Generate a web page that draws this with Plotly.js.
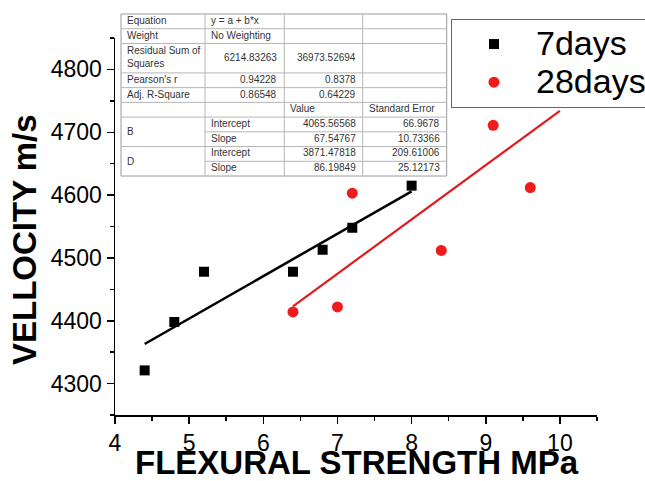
<!DOCTYPE html>
<html>
<head>
<meta charset="utf-8">
<script src="https://cdn.plot.ly/plotly-3.0.1.min.js"></script>
<style>html,body{margin:0;padding:0;background:#fff;}#chart{width:645px;height:481px;}</style>
</head>
<body>
<div id="chart"></div>
<script>
// ---- data ----
const days7X = [4.4, 4.8, 5.2, 6.4, 6.8, 7.2, 8.0];
const days7Y = [4321, 4398, 4478, 4478, 4513, 4548, 4615];
const days28X = [6.4, 7.0, 7.2, 8.4, 9.1, 9.6];
const days28Y = [4414, 4422, 4603, 4512, 4711, 4612];
const fit7X = [4.4, 8.0];
const fit7Y = [4363, 4606];
const fit28X = [6.4, 10.0];
const fit28Y = [4423, 4734];
const seriesNames = ["7days", "28days"];
const xTitle = "FLEXURAL STRENGTH MPa";
const yTitle = "VELLOCITY m/s";

// fit statistics table
const tableCol0 = ["Equation", "Weight", "Residual Sum of<br>Squares", "Pearson's r", "Adj. R-Square", "", "B", "", "D", ""];
const tableCol1 = ["y = a + b*x", "No Weighting", "6214.83263", "0.94228", "0.86548", "", "Intercept", "Slope", "Intercept", "Slope"];
const tableCol2 = ["", "", "36973.52694", "0.8378", "0.64229", "Value", "4065.56568", "67.54767", "3871.47818", "86.19849"];
const tableCol3 = ["", "", "", "", "", "Standard Error", "66.9678", "10.73366", "209.61006", "25.12173"];
const rowSpans = [1, 1, 2, 1, 1, 1, 1, 1, 1, 1];

// ---- layout geometry ----
const L = 115, R = 597, T = 38, B = 415;
const px2x = p => (p - L) / (R - L);
const py2y = p => (B - p) / (B - T);

const colEdges = [121, 205, 284.3, 362.7, 446.7];
const tableTop = 14, unitH = 14.73;
const rowEdges = [tableTop];
rowSpans.forEach(s => rowEdges.push(rowEdges[rowEdges.length - 1] + s * unitH));

const shapes = [];
const annotations = [];
const gridColor = "#b5b5b5";
shapes.push({type: "rect", xref: "paper", yref: "paper",
  x0: px2x(colEdges[0]), x1: px2x(colEdges[4]), y0: py2y(rowEdges[0]), y1: py2y(rowEdges[rowEdges.length - 1]),
  line: {color: "#9a9a9a", width: 1}, fillcolor: "rgba(255,255,255,1)", layer: "above"});
for (let i = 1; i < rowEdges.length - 1; i++) {
  const merged = (tableCol0[i] === "" && i >= 6);
  shapes.push({type: "line", xref: "paper", yref: "paper",
    x0: px2x(merged ? colEdges[1] : colEdges[0]), x1: px2x(colEdges[4]),
    y0: py2y(rowEdges[i]), y1: py2y(rowEdges[i]), line: {color: gridColor, width: 1}, layer: "above"});
}
for (let j = 1; j < 4; j++) {
  shapes.push({type: "line", xref: "paper", yref: "paper",
    x0: px2x(colEdges[j]), x1: px2x(colEdges[j]),
    y0: py2y(rowEdges[0]), y1: py2y(rowEdges[rowEdges.length - 1]), line: {color: gridColor, width: 1}, layer: "above"});
}
const tFont = {family: "Liberation Sans, Arial, sans-serif", size: 10, color: "#333"};
const isNum = s => /^[0-9.]+$/.test(s);
const cols = [tableCol0, tableCol1, tableCol2, tableCol3];
for (let i = 0; i < rowSpans.length; i++) {
  for (let j = 0; j < 4; j++) {
    const txt = cols[j][i];
    if (!txt) continue;
    let yc = (rowEdges[i] + rowEdges[i + 1]) / 2 - 1;
    if (j === 0 && (txt === "B" || txt === "D")) yc = rowEdges[i + 1];
    const right = isNum(txt);
    annotations.push({xref: "paper", yref: "paper", showarrow: false,
      x: px2x(right ? colEdges[j + 1] - 5 : colEdges[j] + 4), y: py2y(yc),
      xanchor: right ? "right" : "left", yanchor: "middle", align: "left",
      text: txt, font: tFont});
  }
}

// axis titles (annotations so they sit where the reference puts them)
annotations.push({xref: "paper", yref: "paper", showarrow: false, borderpad: 0,
  x: px2x(357), y: py2y(462), xanchor: "center", yanchor: "middle",
  text: "<b>" + xTitle + "</b>",
  font: {family: "Liberation Sans, Arial, sans-serif", size: 33, color: "#000"}});
annotations.push({xref: "paper", yref: "paper", showarrow: false,
  x: px2x(25), y: py2y(240), xanchor: "center", yanchor: "middle", textangle: -90,
  text: "<b>" + yTitle + "</b>",
  font: {family: "Liberation Sans, Arial, sans-serif", size: 33, color: "#000"}});

const legendName = n => "<span style='font-size:34px'>" + n + "</span>";

const traces = [
  {x: days7X, y: days7Y, type: "scatter", mode: "markers", name: legendName(seriesNames[0]),
   marker: {symbol: "square", size: 10, color: "#000"}},
  {x: days28X, y: days28Y, type: "scatter", mode: "markers", name: legendName(seriesNames[1]),
   marker: {symbol: "circle", size: 11, color: "#ee1c1c"}},
  {x: fit7X, y: fit7Y, type: "scatter", mode: "lines", showlegend: false,
   line: {color: "#000", width: 2.5}},
  {x: fit28X, y: fit28Y, type: "scatter", mode: "lines", showlegend: false,
   line: {color: "#e01b1f", width: 2.2}}
];

const tickFont = {family: "Liberation Sans, Arial, sans-serif", size: 23, color: "#000"};

const layout = {
  width: 645, height: 481,
  margin: {l: L, r: 645 - R, t: T, b: 481 - B, autoexpand: false},
  paper_bgcolor: "#fff", plot_bgcolor: "#fff",
  showlegend: true,
  legend: {x: px2x(451), y: py2y(19), xanchor: "left", yanchor: "top",
    bordercolor: "#666", borderwidth: 1, bgcolor: "#fff",
    font: {family: "Liberation Sans, Arial, sans-serif", size: 27, color: "#000"},
    itemwidth: 74},
  xaxis: {range: [4, 10.5], tick0: 4, dtick: 1, ticks: "outside", ticklen: 7, tickwidth: 1.5, tickcolor: "#000",
    showline: true, linecolor: "#000", linewidth: 1.5, showgrid: false, zeroline: false,
    minor: {dtick: 0.5, ticks: "outside", ticklen: 4, tickwidth: 1.5, tickcolor: "#000", showgrid: false},
    tickfont: tickFont},
  yaxis: {range: [4250, 4850], tick0: 4300, dtick: 100, ticks: "outside", ticklen: 7, tickwidth: 1.5, tickcolor: "#000",
    showline: true, linecolor: "#000", linewidth: 1.5, showgrid: false, zeroline: false,
    minor: {dtick: 50, ticks: "outside", ticklen: 4, tickwidth: 1.5, tickcolor: "#000", showgrid: false},
    tickfont: tickFont},
  shapes: shapes,
  annotations: annotations
};

Plotly.newPlot("chart", traces, layout, {displayModeBar: false, staticPlot: true});
</script>
</body>
</html>
